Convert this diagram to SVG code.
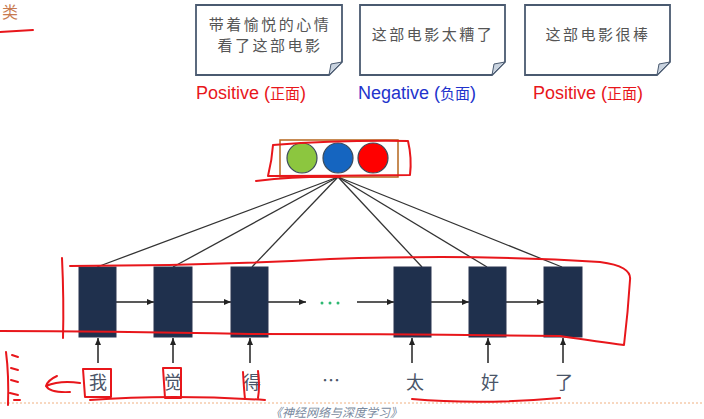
<svg xmlns="http://www.w3.org/2000/svg" width="704" height="419" viewBox="0 0 704 419">
<defs>
<marker id="ah" markerWidth="8" markerHeight="8" refX="7" refY="4" orient="auto" markerUnits="userSpaceOnUse">
<path d="M0,1 L7,4 L0,7 Z" fill="#222"/>
</marker>
<style>
.note{fill:#fff;stroke:#4a5a70;stroke-width:1.8}
.fold{fill:#c9d3df;stroke:#4a5a70;stroke-width:1}
.nt{font-family:"Noto Sans CJK SC",sans-serif;font-size:15px;letter-spacing:2.5px;fill:#555;text-anchor:middle}
.lab{font-family:"Liberation Sans","Noto Sans CJK SC",sans-serif;font-size:18px}
.cell{fill:#1f304d;stroke:#2a3550;stroke-width:1}
.conn{stroke:#333;stroke-width:1.3;fill:none}
.harr{stroke:#222;stroke-width:1.5;fill:none;marker-end:url(#ah)}
.word{font-family:"Noto Sans CJK SC",sans-serif;font-size:18px;fill:#4a5568;text-anchor:middle}
.red{stroke:#e8161b;stroke-width:2;fill:none;stroke-linecap:round;stroke-linejoin:round}
</style>
</defs>
<rect width="704" height="419" fill="#fff"/>

<g id="note1">
<path class="note" d="M196,5 H342 V62 L329,75 H196 Z"/>
<path class="fold" d="M342,62 L329,75 L331,64 Z"/>
<text class="nt" x="270" y="30">带着愉悦的心情</text>
<text class="nt" x="270" y="51">看了这部电影</text>
<text class="lab" x="196" y="99" fill="#e8161b">Positive (<tspan font-family="Noto Sans CJK SC" font-size="15">正面</tspan>)</text>
</g>
<g id="note2">
<path class="note" d="M360,5 H505 V62 L492,75 H360 Z"/>
<path class="fold" d="M505,62 L492,75 L494,64 Z"/>
<text class="nt" x="433" y="40">这部电影太糟了</text>
<text class="lab" x="358" y="99" fill="#2233cc">Negative (<tspan font-family="Noto Sans CJK SC" font-size="15">负面</tspan>)</text>
</g>
<g id="note3">
<path class="note" d="M525,5 H670 V62 L657,75 H525 Z"/>
<path class="fold" d="M670,62 L657,75 L659,64 Z"/>
<text class="nt" x="598" y="40">这部电影很棒</text>
<text class="lab" x="533" y="99" fill="#e8161b">Positive (<tspan font-family="Noto Sans CJK SC" font-size="15">正面</tspan>)</text>
</g>

<g id="output">
<rect x="280" y="140" width="118" height="37" fill="none" stroke="#b5651d" stroke-width="1.5"/>
<circle cx="302" cy="158" r="15" fill="#8cc63f" stroke="#3b4a5a" stroke-width="1.2"/>
<circle cx="338" cy="158" r="15" fill="#1565c0" stroke="#3b4a5a" stroke-width="1.2"/>
<circle cx="373" cy="158" r="15" fill="#ff0000" stroke="#3b4a5a" stroke-width="1.2"/>
</g>

<g id="connectors">
<line class="conn" x1="338" y1="177" x2="97" y2="267"/>
<line class="conn" x1="338" y1="177" x2="173" y2="267"/>
<line class="conn" x1="338" y1="177" x2="252" y2="267"/>
<line class="conn" x1="338" y1="177" x2="422" y2="267"/>
<line class="conn" x1="338" y1="177" x2="487" y2="267"/>
<line class="conn" x1="338" y1="177" x2="562" y2="267"/>
<line class="harr" x1="116" y1="302" x2="154" y2="302"/>
<line class="harr" x1="192" y1="302" x2="231" y2="302"/>
<line class="harr" x1="268" y1="302" x2="306" y2="302"/>
<line class="harr" x1="357" y1="302" x2="394" y2="302"/>
<line class="harr" x1="431" y1="302" x2="469" y2="302"/>
<line class="harr" x1="506" y1="302" x2="544" y2="302"/>
<line class="harr" x1="98" y1="363" x2="98" y2="338"/>
<line class="harr" x1="173" y1="363" x2="173" y2="338"/>
<line class="harr" x1="250" y1="363" x2="250" y2="338"/>
<line class="harr" x1="412" y1="363" x2="412" y2="338"/>
<line class="harr" x1="488" y1="363" x2="488" y2="338"/>
<line class="harr" x1="563" y1="363" x2="563" y2="338"/>
</g>

<g id="cell1"><rect class="cell" x="79" y="267" width="37" height="70"/></g>
<g id="cell2"><rect class="cell" x="154" y="267" width="38" height="70"/></g>
<g id="cell3"><rect class="cell" x="231" y="267" width="37" height="70"/></g>
<g id="dots">
<circle cx="322" cy="303" r="1.5" fill="#2eb872"/>
<circle cx="330" cy="303" r="1.5" fill="#2eb872"/>
<circle cx="338" cy="303" r="1.5" fill="#2eb872"/>
</g>
<g id="cell4"><rect class="cell" x="394" y="267" width="37" height="70"/></g>
<g id="cell5"><rect class="cell" x="469" y="267" width="37" height="70"/></g>
<g id="cell6"><rect class="cell" x="544" y="267" width="38" height="70"/></g>

<g id="words">
<text class="word" x="98" y="389">我</text>
<text class="word" x="173" y="389">觉</text>
<text class="word" x="252" y="389">得</text>
<text class="word" x="331" y="387" font-size="14">…</text>
<text class="word" x="415" y="389">太</text>
<text class="word" x="490" y="389">好</text>
<text class="word" x="564" y="389">了</text>
</g>

<line x1="0" y1="403" x2="704" y2="403" stroke="#f0b080" stroke-width="1" stroke-dasharray="2,2"/>
<text x="336" y="417" font-family="Noto Sans CJK SC,sans-serif" font-size="12" font-style="italic" fill="#7a8aa0" text-anchor="middle">《神经网络与深度学习》</text>

<text x="2" y="18" font-family="Noto Sans CJK SC,sans-serif" font-size="16" fill="#c87a50">类</text>

<g id="annotations">
<path class="red" d="M0,32 Q16,31 33,30"/>
<path class="red" d="M273,145 Q340,140 408,141 Q412,158 410,175 Q340,176 268,176 Q272,160 273,145"/>
<path class="red" d="M256,181 Q300,176 340,177"/>
<path class="red" d="M70,266 Q200,266 330,259 Q480,254 600,262 Q632,266 630,280 Q628,312 624,345 Q600,342 560,336 Q400,334 250,334 Q100,331 0,331"/>
<path class="red" d="M62,258 Q64,300 63,338"/>
<path class="red" d="M83,369 H111 V397 H85 Z"/>
<path class="red" d="M163,368 H181 V398 H165 Z"/>
<path class="red" d="M243,372 Q244,390 245,399 M258,371 Q260,386 258,398"/>
<path class="red" d="M70,392 Q50,393 46,386 Q48,380 57,376 M46,386 Q60,380 80,383"/>
<path class="red" d="M90,400 Q170,394 265,400"/>
<path class="red" d="M412,399 Q480,405 560,398"/>
<path class="red" d="M6,352 Q9,375 8,405 M12,355 L18,357 M11,368 L18,370 M11,380 L18,382 M10,393 L18,395 M14,400 L20,400"/>
</g>
</svg>
